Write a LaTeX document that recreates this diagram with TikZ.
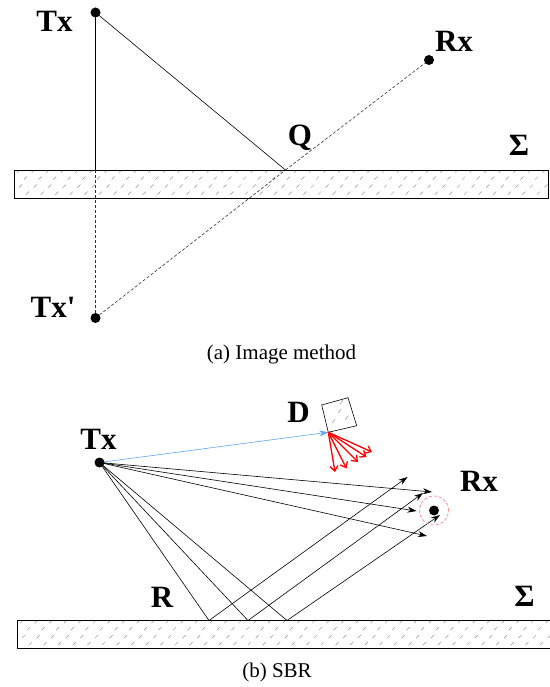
\documentclass[tikz,border=0pt]{standalone}
\usepackage{fontspec}
\setmainfont{Liberation Serif}
\usetikzlibrary{arrows.meta}

\definecolor{incray}{RGB}{95,165,250}

\tikzset{
  lbl/.style={font=\fontsize{31}{33}\selectfont\bfseries},
  captxt/.style={font=\fontsize{21}{24}\selectfont},
  ray/.style={line width=0.6pt,-{Stealth[length=9pt,width=6pt]}},
  scat/.style={red,line width=1.3pt,-{Straight Barb[length=5pt,width=8pt]}},
  imgline/.style={densely dashed,line width=0.6pt,black!80},
  hatchtick/.style={gray!85,line width=0.5pt}
}

% ground slab: left x, right x, top y
\newcommand{\groundslab}[3]{%
  \begin{scope}
    \clip (#1,#3) rectangle (#2,#3+28);
    \foreach \dy/\dx in {1/3,8/10,16/5,23/12}
      \foreach \x in {0,14.6,...,540}
        \draw[hatchtick] (#1+\x+\dx,#3+\dy+1.6) -- ++(3,-3);
  \end{scope}
  \draw[line width=0.8pt] (#1,#3) rectangle (#2,#3+28);
}

\begin{document}
\begin{tikzpicture}[x=1pt,y=-1pt]
    \useasboundingbox (0,0) rectangle (549,687);

    % (a) image method
    \groundslab{14}{548}{170}
    \coordinate (txa) at (95.5,12.5);
    \coordinate (rxa) at (429,60);
    \coordinate (q) at (285.5,170);
    \coordinate (foot) at (95.5,170);
    \coordinate (txi) at (95.5,318);
    \draw[line width=0.6pt] (txa) -- (foot);
    \draw[line width=0.6pt] (txa) -- (q);
    \draw[imgline] (foot) -- (txi);
    \draw[imgline] (txi) -- (q);
    \draw[imgline] (q) -- (rxa);
    \fill (txa) circle (5pt);
    \fill (rxa) circle (5pt);
    \fill (txi) circle (5pt);
    \node[lbl] (ltxa) at (54.5,21) {Tx};
    \node[lbl] (lrxa) at (454,41) {Rx};
    \node[lbl] (lq) at (300,138) {Q};
    \node[lbl] (ltxi) at (53,307) {Tx\textquotesingle};
    \node[lbl] (lsa) at (519,145) {Σ};
    \node[captxt] (capa) at (281.5,354) {(a) Image method};

    % (b) SBR
    \groundslab{17}{560}{620.5}
    \coordinate (txb) at (99.5,462.5);
    \coordinate (rxb) at (434,510.5);
    \coordinate (db1) at (321.7,405);
    \coordinate (db2) at (348,397.7);
    \coordinate (db3) at (356.7,425.7);
    \coordinate (dhit) at (328.3,432.3);
    \draw[line width=0.6pt] (db1) -- (db2) -- (db3) -- (dhit) -- cycle;
    \draw[hatchtick] (332,423) -- ++(3,-4);
    \draw[hatchtick] (338,413) -- ++(3,-4);
    \draw[hatchtick] (345,420) -- ++(3,-4);
    \draw[hatchtick] (340,404) -- ++(3,-4);
    \draw[ray,incray] (txb) -- (dhit);
    \foreach \i/\sx/\sy in {1/335/472,2/346.5/468.5,3/358/462,4/366.5/457,5/372/452}{
      \coordinate (s\i) at (\sx,\sy);
      \draw[scat] (dhit) -- (s\i);
    }
    % direct rays
    \coordinate (d1) at (432,492);
    \coordinate (d2) at (416.5,511);
    \coordinate (d3) at (427,536);
    \draw[ray] (txb) -- (d1);
    \draw[ray] (txb) -- (d2);
    \draw[ray] (txb) -- (d3);
    % ground reflections
    \coordinate (r1) at (209,620.5);
    \coordinate (r2) at (248,620.5);
    \coordinate (r3) at (287,620.5);
    \coordinate (e1) at (407.5,477);
    \coordinate (e2) at (423,493);
    \coordinate (e3) at (440,515);
    \draw[line width=0.6pt] (txb) -- (r1);
    \draw[line width=0.6pt] (txb) -- (r2);
    \draw[line width=0.6pt] (txb) -- (r3);
    \draw[ray] (r1) -- (e1);
    \draw[ray] (r2) -- (e2);
    \draw[ray] (r3) -- (e3);
    \draw[red!55,densely dashed,line width=0.6pt] (rxb) circle (14.5pt);
    \fill (txb) circle (5pt);
    \fill (rxb) circle (5pt);
    \node[lbl] (ltxb) at (98.5,439) {Tx};
    \node[lbl] (ld) at (298.5,412) {D};
    \node[lbl] (lrxb) at (479,481) {Rx};
    \node[lbl] (lr) at (162,597) {R};
    \node[lbl] (lsb) at (524.5,596) {Σ};
    \node[captxt] (capb) at (277,672) {(b) SBR};
\end{tikzpicture}
\end{document}
